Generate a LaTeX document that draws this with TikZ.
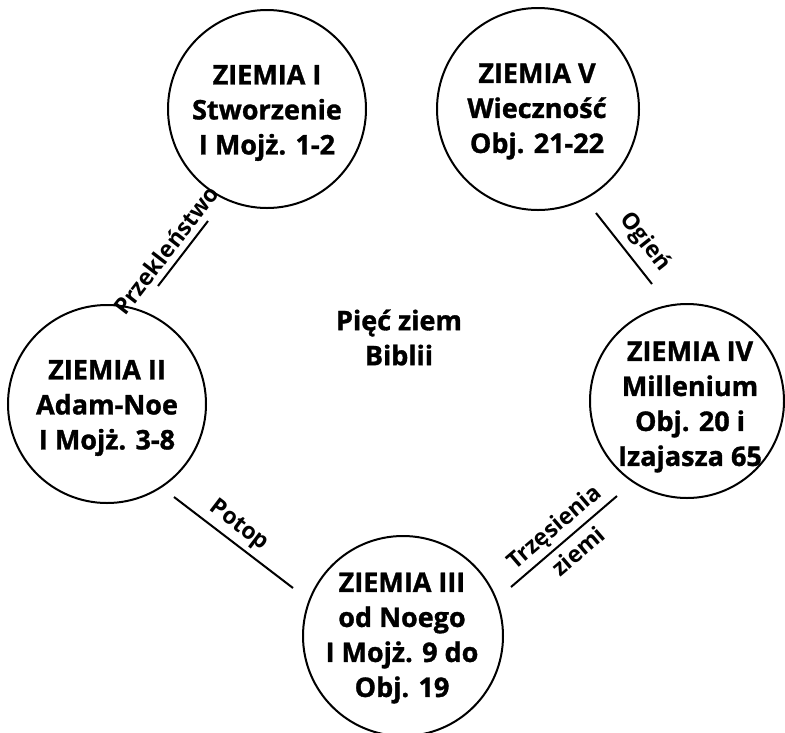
\documentclass[tikz,border=0pt]{standalone}
\usepackage{fontspec}
\setmainfont{Open Sans}[BoldFeatures={FakeBold=1.2}]
\newfontfamily\lblfont{Open Sans}
\begin{document}
\begin{tikzpicture}[x=1pt,y=-1pt,
  earth/.style={circle, draw, line width=2pt, inner sep=0pt},
  etext/.style={align=center, inner sep=0pt, font=\fontsize{27}{35}\selectfont\bfseries},
  lbl/.style={inner sep=0pt, font=\lblfont\fontsize{23}{26}\selectfont\bfseries},
  conn/.style={line width=2pt}]
\useasboundingbox (0,0) rectangle (785,732);

% circles
\node[earth, minimum size=198pt] (e1) at (267,109) {};
\node[earth, minimum size=202pt] (e5) at (538,109) {};
\node[earth, minimum size=198pt] (e2) at (107,404) {};
\node[earth, minimum size=194pt] (e4) at (687,401) {};
\node[earth, minimum size=200pt] (e3) at (403,636) {};

% texts
\node[etext] (t1) at (267,113) {ZIEMIA I\\Stworzenie\\I Mojż. 1-2};
\node[etext] (t5) at (537,111.5) {ZIEMIA V\\Wieczność\\Obj. 21-22};
\node[etext] (t2) at (107,408) {ZIEMIA II\\Adam-Noe\\I Mojż. 3-8};
\node[etext] (t4) at (690,407) {ZIEMIA IV\\Millenium\\Obj. 20 i\\Izajasza 65};
\node[etext] (t3) at (402,638) {ZIEMIA III\\od Noego\\I Mojż. 9 do\\Obj. 19};
\node[etext] (tc) at (399,337.5) {Pięć ziem\\Biblii};

% connectors
\coordinate (a1) at (158,286); \coordinate (a2) at (208,221);
\coordinate (b1) at (596,213); \coordinate (b2) at (652,284);
\coordinate (c1) at (174,497); \coordinate (c2) at (293,588);
\coordinate (d1) at (511,587); \coordinate (d2) at (617,496);
\draw[conn] (a1) -- (a2);
\draw[conn] (b1) -- (b2);
\draw[conn] (c1) -- (c2);
\draw[conn] (d1) -- (d2);

% labels
\node[lbl, rotate=52.4] (la) at (166,250) {Przekleństwo};
\node[lbl, rotate=-51.7] (lb) at (645,242) {Ogień};
\node[lbl, rotate=-37.4] (lc) at (239,526) {Potop};
\node[lbl, rotate=40.6] (ld1) at (555,528) {Trzęsienia};
\node[lbl, rotate=40.6] (ld2) at (578,551) {ziemi};
\end{tikzpicture}
\end{document}
